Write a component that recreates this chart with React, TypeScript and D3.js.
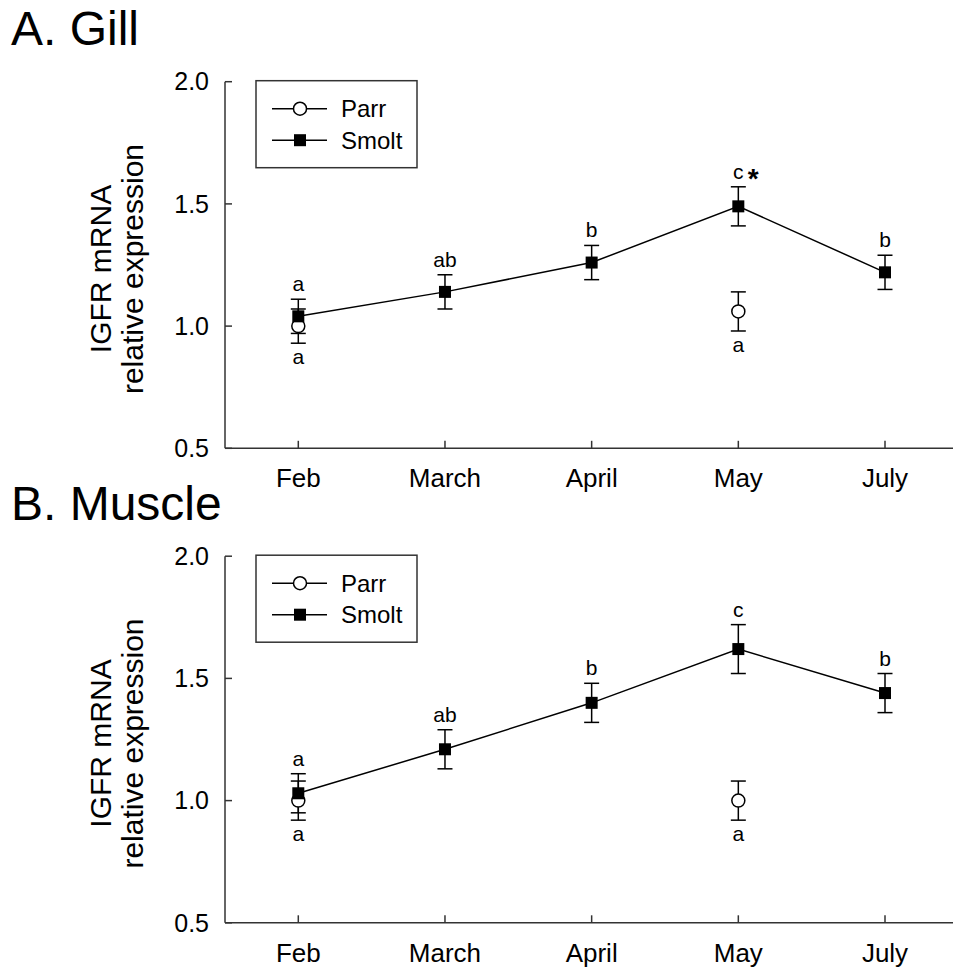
import React from "react";
import * as d3 from "d3";

const months = ["Feb", "March", "April", "May", "July"];
const yTicks = [0.5, 1.0, 1.5, 2.0];
const yTickLabels = ["0.5", "1.0", "1.5", "2.0"];
const seriesNames = ["Parr", "Smolt"];

const gillSmolt = [1.04, 1.14, 1.26, 1.49, 1.22];
const gillSmoltErr = [0.07, 0.07, 0.07, 0.08, 0.07];
const gillParr: (number | null)[] = [1.0, null, null, 1.06, null];
const gillParrErr: (number | null)[] = [0.07, null, null, 0.08, null];
const gillSmoltLetters = ["a", "ab", "b", "c", "b"];
const gillParrLetters = ["a", "", "", "a", ""];
const gillStars = ["", "", "", "*", ""];

const muscleSmolt = [1.03, 1.21, 1.4, 1.62, 1.44];
const muscleSmoltErr = [0.08, 0.08, 0.08, 0.1, 0.08];
const muscleParr: (number | null)[] = [1.0, null, null, 1.0, null];
const muscleParrErr: (number | null)[] = [0.08, null, null, 0.08, null];
const muscleSmoltLetters = ["a", "ab", "b", "c", "b"];
const muscleParrLetters = ["a", "", "", "a", ""];
const muscleStars = ["", "", "", "", ""];

const FONT = "'Liberation Sans', Arial, Helvetica, sans-serif";

type PanelProps = {
  oy: number;
  title: string;
  smolt: number[];
  smoltErr: number[];
  parr: (number | null)[];
  parrErr: (number | null)[];
  smoltLetters: string[];
  parrLetters: string[];
  stars: string[];
};

function Panel(p: PanelProps) {
  const top = 81.7;
  const bottom = 448.3;
  const left = 225;
  const x = d3.scalePoint<string>().domain(months).range([298.3, 885]);
  const y = d3.scaleLinear().domain([0.5, 2.0]).range([bottom, top]);
  const line = d3
    .line<number>()
    .x((_, i) => x(months[i]) as number)
    .y((d) => y(d));
  const cap = 7.5;
  const sq = 12;
  const axisColor = "#333";

  const errBar = (cx: number, v: number, e: number, key: string) => (
    <g key={key} stroke="#000" strokeWidth={1.5}>
      <line x1={cx} x2={cx} y1={y(v - e)} y2={y(v + e)} />
      <line x1={cx - cap} x2={cx + cap} y1={y(v + e)} y2={y(v + e)} />
      <line x1={cx - cap} x2={cx + cap} y1={y(v - e)} y2={y(v - e)} />
    </g>
  );

  const legTop = top - 1;
  return (
    <g transform={`translate(0,${p.oy})`} fontFamily={FONT}>
      <text x={11} y={45} fontSize={48} fill="#000">
        {p.title}
      </text>
      {/* y label */}
      <g fontSize={30} fill="#000" textAnchor="middle">
        <text transform={`translate(111,269) rotate(-90)`}>IGFR mRNA</text>
        <text transform={`translate(143,269) rotate(-90)`}>relative expression</text>
      </g>
      {/* axes */}
      <line x1={left} x2={left} y1={top} y2={bottom} stroke={axisColor} strokeWidth={1.5} />
      <line x1={left} x2={960} y1={bottom} y2={bottom} stroke={axisColor} strokeWidth={1.5} />
      {yTicks.map((t, i) => (
        <g key={"yt" + i}>
          <line x1={left} x2={left + 7} y1={y(t)} y2={y(t)} stroke={axisColor} strokeWidth={1.5} />
          <text x={209} y={y(t)} dy="0.35em" textAnchor="end" fontSize={25} fill="#000">
            {yTickLabels[i]}
          </text>
        </g>
      ))}
      {months.map((m) => (
        <g key={"xt" + m}>
          <line
            x1={x(m)}
            x2={x(m)}
            y1={bottom}
            y2={bottom - 7.5}
            stroke={axisColor}
            strokeWidth={1.5}
          />
          <text x={x(m)} y={bottom + 38.7} textAnchor="middle" fontSize={26} fill="#000">
            {m}
          </text>
        </g>
      ))}
      {/* legend */}
      <rect x={256} y={legTop} width={161} height={87} fill="#fff" stroke={axisColor} strokeWidth={1.5} />
      <g>
        <line x1={272} x2={327} y1={legTop + 28} y2={legTop + 28} stroke="#000" strokeWidth={1.5} />
        <circle cx={300} cy={legTop + 28} r={6.5} fill="#fff" stroke="#000" strokeWidth={1.5} />
        <text x={341} y={legTop + 28} dy="0.35em" fontSize={24} fill="#000">
          {seriesNames[0]}
        </text>
        <line x1={272} x2={327} y1={legTop + 59.5} y2={legTop + 59.5} stroke="#000" strokeWidth={1.5} />
        <rect x={300 - sq / 2} y={legTop + 59.5 - sq / 2} width={sq} height={sq} fill="#000" />
        <text x={341} y={legTop + 59.5} dy="0.35em" fontSize={24} fill="#000">
          {seriesNames[1]}
        </text>
      </g>
      {/* smolt line */}
      <path d={line(p.smolt) || ""} fill="none" stroke="#000" strokeWidth={1.5} />
      {/* parr error bars & markers */}
      {p.parr.map((v, i) =>
        v == null ? null : errBar(x(months[i]) as number, v, p.parrErr[i] as number, "pe" + i)
      )}
      {p.smolt.map((v, i) => errBar(x(months[i]) as number, v, p.smoltErr[i], "se" + i))}
      {p.parr.map((v, i) =>
        v == null ? null : (
          <circle
            key={"pc" + i}
            cx={x(months[i])}
            cy={y(v)}
            r={6.5}
            fill="#fff"
            stroke="#000"
            strokeWidth={1.5}
          />
        )
      )}
      {p.smolt.map((v, i) => (
        <rect
          key={"sr" + i}
          x={(x(months[i]) as number) - sq / 2}
          y={y(v) - sq / 2}
          width={sq}
          height={sq}
          fill="#000"
        />
      ))}
      {/* letters */}
      {p.smolt.map((v, i) => (
        <g key={"sl" + i}>
          <text
            x={x(months[i])}
            y={y(v + p.smoltErr[i]) - 8}
            textAnchor="middle"
            fontSize={21}
            fill="#000"
          >
            {p.smoltLetters[i]}
          </text>
          {p.stars[i] ? (
            <text
              x={(x(months[i]) as number) + 15}
              y={y(v + p.smoltErr[i]) - 8 + 9}
              textAnchor="middle"
              fontSize={28}
              fontWeight="bold"
              fill="#000"
            >
              {p.stars[i]}
            </text>
          ) : null}
        </g>
      ))}
      {p.parr.map((v, i) =>
        v == null || !p.parrLetters[i] ? null : (
          <text
            key={"pl" + i}
            x={x(months[i])}
            y={y(v - (p.parrErr[i] as number)) + 21}
            textAnchor="middle"
            fontSize={21}
            fill="#000"
          >
            {p.parrLetters[i]}
          </text>
        )
      )}
    </g>
  );
}

export default function App() {
  return (
    <div>
      <style>{`body{margin:0;background:#fff}`}</style>
      <svg width={953} height={970} style={{ display: "block" }}>
        <rect width={953} height={970} fill="#fff" />
        <Panel
          oy={0}
          title="A. Gill"
          smolt={gillSmolt}
          smoltErr={gillSmoltErr}
          parr={gillParr}
          parrErr={gillParrErr}
          smoltLetters={gillSmoltLetters}
          parrLetters={gillParrLetters}
          stars={gillStars}
        />
        <Panel
          oy={474.5}
          title="B. Muscle"
          smolt={muscleSmolt}
          smoltErr={muscleSmoltErr}
          parr={muscleParr}
          parrErr={muscleParrErr}
          smoltLetters={muscleSmoltLetters}
          parrLetters={muscleParrLetters}
          stars={muscleStars}
        />
      </svg>
    </div>
  );
}
